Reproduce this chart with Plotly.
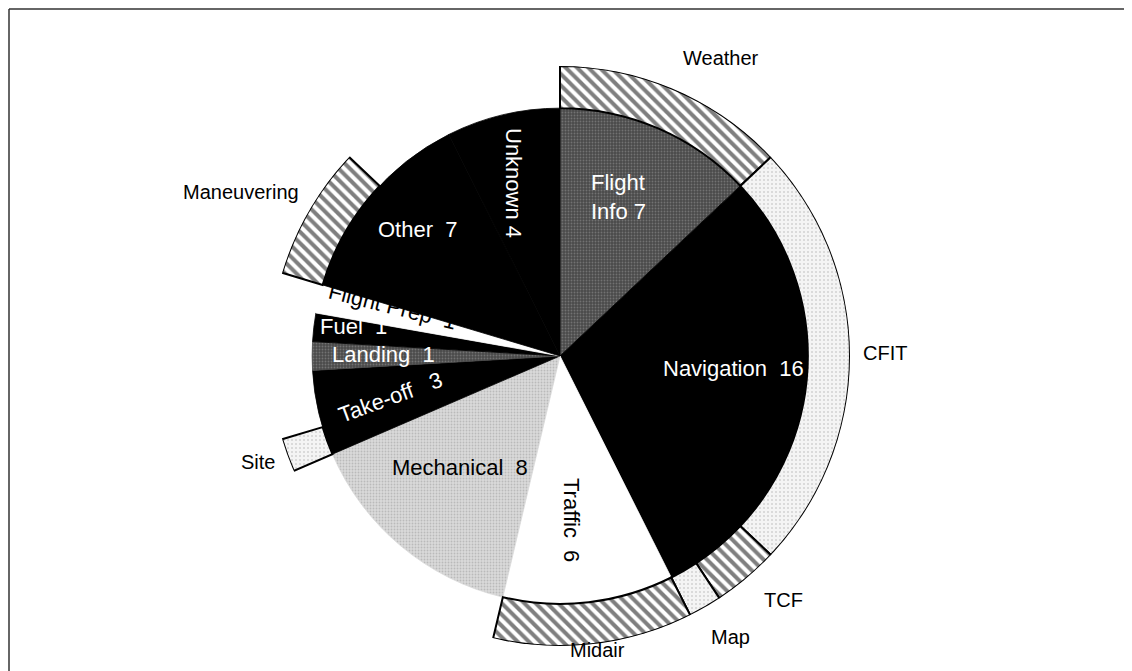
import plotly.graph_objects as go
import numpy as np

# Inner pie: causes and their counts (clockwise from 12 o'clock)
causes = ["Flight Info", "Navigation", "Traffic", "Mechanical", "Take-off",
          "Landing", "Fuel", "Flight Prep", "Other", "Unknown"]
counts = [7, 16, 6, 8, 3, 1, 1, 1, 7, 4]

# Outer ring: sub-category, the cause it sits on, count
sub_names = ["Weather", "CFIT", "TCF", "Map", "Midair", "Site", "Maneuvering"]
sub_parents = ["Flight Info", "Navigation", "Navigation", "Navigation",
               "Traffic", "Take-off", "Other"]
sub_counts = [7, 13, 2, 1, 6, 1, 4]

# fill styles
DARK_DOTS = dict(bg="#4a4a4a", fg="#9a9a9a", shape=".", size=3, solidity=0.3)
LIGHT_DOTS = dict(bg="#dadada", fg="#999999", shape=".", size=3, solidity=0.3)
PALE_DOTS = dict(bg="#f4f4f4", fg="#b0b0b0", shape=".", size=4, solidity=0.2)
HATCH = dict(bg="#ffffff", fg="#000000", shape="\\", size=8, solidity=0.5)
BLACK = dict(bg="#000000", fg="#000000", shape="", size=8, solidity=0.3)
WHITE = dict(bg="#ffffff", fg="#ffffff", shape="", size=8, solidity=0.3)

inner_styles = {
    "Flight Info": DARK_DOTS, "Navigation": BLACK, "Traffic": WHITE,
    "Mechanical": LIGHT_DOTS, "Take-off": BLACK, "Landing": DARK_DOTS,
    "Fuel": BLACK, "Flight Prep": WHITE, "Other": BLACK, "Unknown": BLACK,
}
ring_styles = {
    "Weather": HATCH, "CFIT": PALE_DOTS, "TCF": HATCH, "Map": PALE_DOTS,
    "Midair": HATCH, "Site": PALE_DOTS, "Maneuvering": HATCH,
}

total = sum(counts)
deg = 360.0 / total

starts = np.concatenate([[0], np.cumsum(counts)[:-1]])
cause_start = dict(zip(causes, starts))

R_IN = 1.0
RING = 0.17

fig = go.Figure()


def add_wedge(theta, width, st, r, base=None, line=None):
    pat = dict(shape=st["shape"], fgcolor=st["fg"], size=st["size"],
               solidity=st["solidity"], fillmode="overlay")
    fig.add_trace(go.Barpolar(
        r=[r], theta=[theta], width=[width], base=None if base is None else [base],
        marker=dict(color=st["bg"], pattern=pat,
                    line=line or dict(color=st["bg"], width=0.8)),
        hoverinfo="skip",
    ))


for name, s, c in zip(causes, starts, counts):
    add_wedge((s + c / 2) * deg, c * deg, inner_styles[name], R_IN)

# ring segments are laid out one after another inside their parent wedge
offset = {c: 0 for c in causes}
for name, parent, c in zip(sub_names, sub_parents, sub_counts):
    s = cause_start[parent] + offset[parent]
    offset[parent] += c
    add_wedge((s + c / 2) * deg, c * deg, ring_styles[name], RING, base=R_IN,
              line=dict(color="black", width=2))

# page body has an 8px margin, so the figure is smaller and shifted
OFF = 8
W, H = 1132 - OFF, 671 - OFF
cx, cy, rpx = 560, 356, 290


def px(x, y):
    return (x - OFF) / W, 1 - (y - OFF) / H


# label text, pixel position in the screenshot, colour, angle, size
labels = [
    ("Weather", 721, 58, "black", 0, 20),
    ("Maneuvering", 241, 192, "black", 0, 20),
    ("CFIT", 885, 353, "black", 0, 20),
    ("TCF", 783, 600, "black", 0, 20),
    ("Map", 730, 637, "black", 0, 20),
    ("Midair", 597, 650, "black", 0, 20),
    ("Site", 258, 462, "black", 0, 20),
    ("Flight<br>Info 7", 618, 197, "white", 0, 22),
    ("Unknown 4", 513, 183, "white", 90, 22),
    ("Other  7", 417, 230, "white", 0, 22),
    ("Flight Prep  1", 392, 307, "black", 14, 22),
    ("Fuel  1", 353, 326, "white", 0, 22),
    ("Landing  1", 383, 354, "white", 0, 22),
    ("Take-off   3", 390, 397, "white", -20, 22),
    ("Mechanical  8", 460, 467, "black", 0, 22),
    ("Traffic  6", 572, 520, "black", 90, 22),
    ("Navigation  16", 733, 368, "white", 0, 22),
]
for text, x, y, col, ang, size in labels:
    ax, ay = px(x, y)
    fig.add_annotation(
        x=ax, y=ay, xref="paper", yref="paper", text=text, showarrow=False,
        xanchor="center", yanchor="middle", textangle=ang, align="left",
        font=dict(family="Arial, Liberation Sans, sans-serif", size=size, color=col),
    )

# frame lines (top and left)
fy = px(7, 9)[1]
fx = 1 / W
fig.add_shape(type="line", xref="paper", yref="paper",
              x0=fx, x1=1, y0=fy, y1=fy, line=dict(color="#333333", width=1.5))
fig.add_shape(type="line", xref="paper", yref="paper",
              x0=fx, x1=fx, y0=0, y1=fy, line=dict(color="#333333", width=1.5))

x0, y1 = px(cx - rpx, cy - rpx)
x1, y0 = px(cx + rpx, cy + rpx)
fig.update_layout(
    width=W, height=H,
    margin=dict(l=0, r=0, t=0, b=0),
    paper_bgcolor="white",
    showlegend=False,
    polar=dict(
        domain=dict(x=[x0, x1], y=[y0, y1]),
        bgcolor="rgba(0,0,0,0)",
        bargap=0,
        barmode="overlay",
        radialaxis=dict(visible=False, range=[0, R_IN + RING]),
        angularaxis=dict(visible=False, rotation=90, direction="clockwise",
                         thetaunit="degrees"),
    ),
)

fig.write_html("out.html")
